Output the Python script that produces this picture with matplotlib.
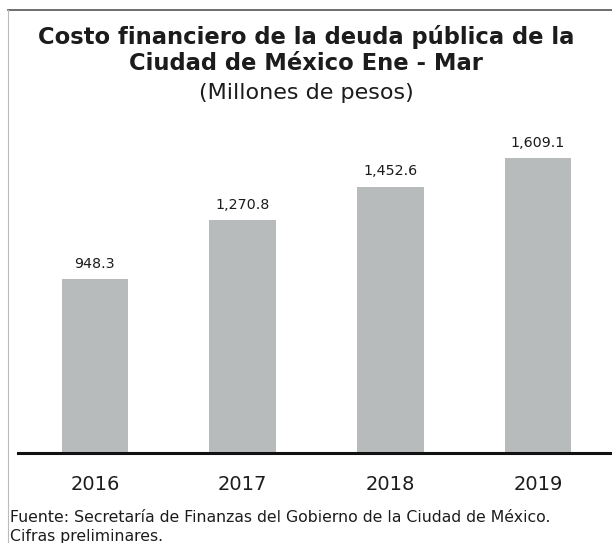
import matplotlib.pyplot as plt
from matplotlib.lines import Line2D

years = ['2016', '2017', '2018', '2019']
valores = [948.3, 1270.8, 1452.6, 1609.1]
etiquetas = ['948.3', '1,270.8', '1,452.6', '1,609.1']

plt.rcParams['font.family'] = ['DejaVu Sans']
texto = '#1c1c1c'

fig = plt.figure(figsize=(6.12, 5.43), dpi=100)
ax = fig.add_axes([18/612, 90/543, 1 - 18/612, 323/543])

x = range(len(years))
ax.bar(x, valores, width=0.45, color='#b8bbbb', zorder=1)
for i, v in enumerate(valores):
    ax.text(i, v + 45, etiquetas[i], ha='center', va='bottom', fontsize=10.3, color=texto)

ax.set_xlim(-0.52, 3.5)
ax.set_ylim(0, 1762)
ax.axhline(0, color='#111111', lw=2.2, zorder=3, clip_on=False)
ax.set_yticks([])
ax.set_xticks([])
for s in ax.spines.values():
    s.set_visible(False)
for i, y in enumerate(years):
    ax.text(i, -172, y, ha='center', va='center', fontsize=14, color=texto)

# marco del recuadro
fig.add_artist(Line2D([8/612, 1], [1 - 10/543, 1 - 10/543], color='#555555', lw=1.2))
fig.add_artist(Line2D([8/612, 8/612], [0, 1 - 10/543], color='#bbbbbb', lw=0.8))

fig.text(0.5, 1 - 37/543, 'Costo financiero de la deuda pública de la', ha='center', va='center',
         fontsize=16.3, fontweight='bold', color=texto)
fig.text(0.5, 1 - 64/543, 'Ciudad de México Ene - Mar', ha='center', va='center',
         fontsize=16.3, fontweight='bold', color=texto)
fig.text(0.5, 1 - 93/543, '(Millones de pesos)', ha='center', va='center',
         fontsize=16, color=texto)

fig.text(10/612, 1 - 518/543, 'Fuente: Secretaría de Finanzas del Gobierno de la Ciudad de México.',
         ha='left', va='center', fontsize=11.3, color=texto)
fig.text(10/612, 1 - 537/543, 'Cifras preliminares.', ha='left', va='center', fontsize=11.3, color=texto)

fig.savefig('out.png', dpi=100)
